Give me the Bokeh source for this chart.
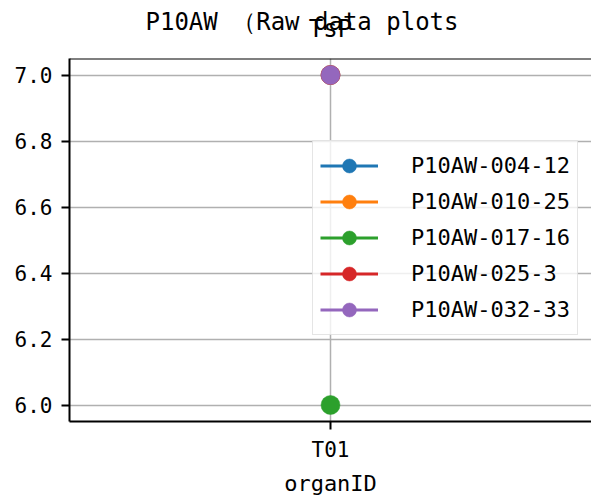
from bokeh.plotting import figure
from bokeh.models import FactorRange, Range1d, Title, Legend, FixedTicker, NumeralTickFormatter, Span
from bokeh.embed import file_html
from bokeh.resources import INLINE

organs = ["T01"]
series_names = ["P10AW-004-12", "P10AW-010-25", "P10AW-017-16", "P10AW-025-3", "P10AW-032-33"]
series_values = [[7.0], [7.0], [6.0], [7.0], [7.0]]
colors = ["#1f77b4", "#ff7f0e", "#2ca02c", "#d62728", "#9467bd"]
y_ticks = [6.0, 6.2, 6.4, 6.6, 6.8, 7.0]
suptitle = "P10AW （Raw data plots"
subtitle = "TsP"
x_label = "organID"

FONT = "DejaVu Sans Mono"
W, H = 591, 499
Y0, Y1 = 5.95, 7.05

p = figure(width=W, height=H, output_backend="svg", toolbar_location=None,
           x_range=FactorRange(*organs, range_padding=0),
           y_range=Range1d(Y0, Y1),
           min_border_left=69, min_border_right=0, min_border_top=57, min_border_bottom=78)
p.outline_line_color = None
p.background_fill_color = "white"
p.border_fill_color = "white"

items = []
for name, vals, c in zip(series_names, series_values, colors):
    l = p.line(organs, vals, line_color=c, line_width=3)
    s = p.scatter(organs, vals, size=19, fill_color=c, line_color=c, line_width=0.5)
    items.append((name, [l, s]))

legend = Legend(items=items, location=(243, 86))
legend.label_text_font = FONT
legend.label_text_font_size = "22px"
legend.label_text_color = "black"
legend.glyph_width = 58
legend.glyph_height = 35
legend.spacing = 1
legend.label_standoff = 33
legend.padding = 7
legend.margin = 0
legend.border_line_color = "#cccccc"
legend.border_line_width = 1.5
legend.background_fill_alpha = 0.8
p.add_layout(legend, "center")

for ax in (p.xaxis[0], p.yaxis[0]):
    ax.axis_line_width = 2
    ax.axis_line_color = "black"
    ax.major_tick_line_width = 2
    ax.major_tick_in = 0
    ax.major_tick_out = 8
    ax.minor_tick_line_color = None
    ax.major_label_text_font = FONT
    ax.major_label_text_font_size = "21px"
    ax.major_label_text_color = "black"

p.yaxis[0].ticker = FixedTicker(ticks=y_ticks)
p.yaxis[0].formatter = NumeralTickFormatter(format="0.0")
p.yaxis[0].major_label_standoff = 9
p.xaxis[0].major_label_standoff = 8
p.xaxis[0].axis_label = x_label
p.xaxis[0].axis_label_text_font = FONT
p.xaxis[0].axis_label_text_font_size = "22px"
p.xaxis[0].axis_label_text_font_style = "normal"
p.xaxis[0].axis_label_text_color = "black"
p.xaxis[0].axis_label_standoff = 6

p.xgrid.grid_line_color = "#b0b0b0"
p.xgrid.grid_line_width = 1.5
p.ygrid.grid_line_color = "#b0b0b0"
p.ygrid.grid_line_width = 1.5

top_line = Span(location=Y1, dimension="width", line_color="black", line_width=2)
p.add_layout(top_line)

# axes title (nearest the frame) and the figure title, which overlap as in the original
p.add_layout(Title(text=subtitle, align="center", vertical_align="top", text_font=FONT,
                   text_font_size="24px", text_font_style="normal", text_color="black",
                   standoff=28), "above")
p.add_layout(Title(text=suptitle, align="left", offset=76, vertical_align="bottom",
                   text_font=FONT, text_font_size="24px", text_font_style="normal",
                   text_color="black", standoff=-71), "above")

open("out.html", "w").write(file_html(p, INLINE))
